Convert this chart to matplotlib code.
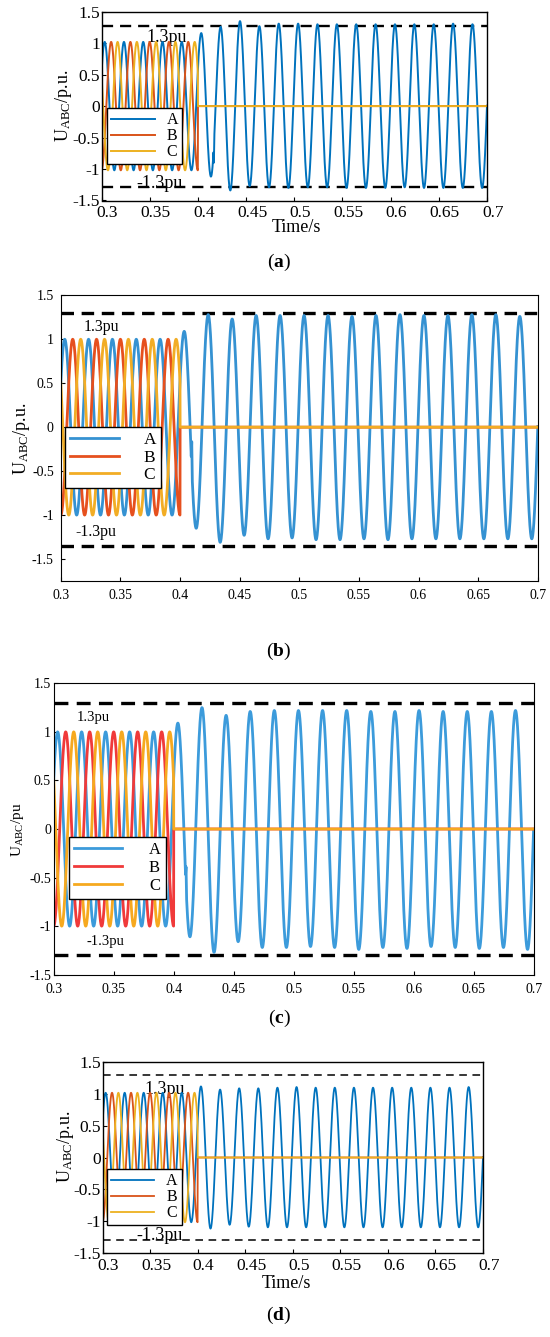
import numpy as np
import matplotlib
matplotlib.use('Agg')
import matplotlib.pyplot as plt
import matplotlib.transforms as mtransforms

plt.rcParams['font.family'] = ['Liberation Serif', 'DejaVu Serif']
plt.rcParams['mathtext.fontset'] = 'custom'
plt.rcParams['mathtext.rm'] = 'Liberation Serif'
plt.rcParams['mathtext.it'] = 'Liberation Serif:italic'
plt.rcParams['mathtext.bf'] = 'Liberation Serif:bold'
plt.rcParams['lines.scale_dashes'] = False
plt.rcParams['axes.unicode_minus'] = False

# ---------------------------------------------------------------- data
x_ticks = [0.3, 0.35, 0.4, 0.45, 0.5, 0.55, 0.6, 0.65, 0.7]
x_tick_labels = ['0.3', '0.35', '0.4', '0.45', '0.5', '0.55', '0.6', '0.65', '0.7']
y_ticks = [-1.5, -1, -0.5, 0, 0.5, 1, 1.5]
y_tick_labels = ['-1.5', '-1', '-0.5', '0', '0.5', '1', '1.5']
phase_names = ['A', 'B', 'C']
panel_letters = ['a', 'b', 'c', 'd']
y_labels = [r'U$_{\rm ABC}$/p.u.', r'U$_{\rm ABC}$/p.u.', r'U$_{\rm ABC}$/pu', r'U$_{\rm ABC}$/p.u.']
limit_texts = ['1.3pu', '-1.3pu']

f_pre = 50.0           # Hz, pre-fault frequency
f_post = 49.75
t_fault = 0.40         # s, phases B and C drop to zero
# first crest time of each phase (A, B, C)
first_crest = [0.2833, 0.2900, 0.2967]
# pre-fault crest value per panel
pre_amp = [1.02, 1.00, 1.00, 1.02]

# post-fault phase-A crest / trough values, every half cycle from 0.4035 s
post_first_t = 0.4035
post_A_a = [1.16, -1.12, 1.26, -1.34, 1.35, -1.27, 1.27, -1.29, 1.31, -1.30,
            1.31, -1.29, 1.30, -1.29, 1.30, -1.30, 1.30, -1.30, 1.30, -1.30,
            1.30, -1.29, 1.30, -1.30, 1.30, -1.30, 1.31, -1.30, 1.30, -1.30, 1.30]
post_A_b = [1.09, -1.15, 1.28, -1.31, 1.23, -1.23, 1.27, -1.27, 1.27, -1.26,
            1.27, -1.28, 1.27, -1.28, 1.26, -1.27, 1.27, -1.28, 1.28, -1.27,
            1.27, -1.27, 1.27, -1.27, 1.28, -1.27, 1.28, -1.27, 1.26, -1.27, 1.27]
post_A_c = [1.09, -1.11, 1.25, -1.27, 1.17, -1.16, 1.21, -1.22, 1.22, -1.22,
            1.22, -1.21, 1.22, -1.22, 1.22, -1.24, 1.21, -1.22, 1.21, -1.23,
            1.22, -1.21, 1.21, -1.22, 1.21, -1.23, 1.21, -1.22, 1.22, -1.24, 1.22]
post_A_d = [1.12, -1.12, 1.07, -1.06, 1.09, -1.09, 1.09, -1.10, 1.10, -1.10,
            1.11, -1.10, 1.10, -1.10, 1.10, -1.10, 1.10, -1.10, 1.10, -1.10,
            1.10, -1.10, 1.10, -1.10, 1.10, -1.10, 1.10, -1.10, 1.11, -1.10, 1.10]
post_A = [post_A_a, post_A_b, post_A_c, post_A_d]

# short switching notch on phase A just after the fault
notch_t = [0.4166, 0.4098, 0.4103, None]
notch_dy = [-0.28, 0.30, 0.20, 0.0]

# dashed limit levels
limit_hi = [1.28, 1.30, 1.30, 1.30]
limit_lo = [-1.29, -1.35, -1.30, -1.30]
y_lims = [(-1.5, 1.5), (-1.75, 1.5), (-1.5, 1.5), (-1.5, 1.5)]

# ---------------------------------------------------------------- styles
W, H = 550, 1337
matlab = ['#0072BD', '#D95319', '#EDB120']
styles = [
    dict(ax=(101.5, 11.7, 487, 200.5), colors=matlab, lw=1.4, tick_fs=12.5,
         dash_lw=1.7, dash=(8, 5), ylab=(64, 106), ylab_fs=13, xlab=(296, 228),
         cap=(279, 262), txt_hi=(167, 37), txt_lo=(160, 183), txt_fs=13,
         leg=(106.7, 108.3), leg_fs=11.5, leg_hl=2.75, leg_tp=0.75, leg_ls=0.0,
         leg_bp=0.25, ypad=1.0, xpad=3.5, spine=1.0, xshift=6),
    dict(ax=(60.8, 295.3, 537.8, 581), colors=['#3592D2', '#E6501E', '#F2AD25'], lw=2.0,
         tick_fs=10, dash_lw=2.4, dash=(9, 5.5), ylab=(22, 439), ylab_fs=13, xlab=None,
         cap=(279, 651), txt_hi=(101.5, 327), txt_lo=(96, 532), txt_fs=11.5,
         leg=(64.7, 426.7), leg_fs=12.5, leg_hl=2.8, leg_tp=1.45, leg_ls=0.08,
         leg_bp=0.3, ypad=5.0, xpad=6.0, spine=0.8, xshift=0),
    dict(ax=(53.7, 683.3, 533.6, 974.7), colors=['#3C9BDB', '#F03A3A', '#F6A91F'], lw=2.0,
         tick_fs=10, dash_lw=2.4, dash=(10, 6), ylab=(17, 830), ylab_fs=11, xlab=None,
         cap=(279, 1018), txt_hi=(93, 717), txt_lo=(105.5, 942), txt_fs=10.5,
         leg=(68.9, 836.7), leg_fs=12, leg_hl=2.9, leg_tp=1.6, leg_ls=0.12,
         leg_bp=0.3, ypad=2.0, xpad=6.0, spine=0.8, xshift=0),
    dict(ax=(102.5, 1062.3, 483, 1252.7), colors=matlab, lw=1.3, tick_fs=12.5,
         dash_lw=1.1, dash=(5.5, 4), ylab=(65, 1147), ylab_fs=13, xlab=(286, 1283),
         cap=(279, 1315), txt_hi=(165, 1089), txt_lo=(160, 1235), txt_fs=13,
         leg=(107, 1169.3), leg_fs=11.5, leg_hl=2.7, leg_tp=0.75, leg_ls=0.0,
         leg_bp=0.25, ypad=1.0, xpad=3.5, spine=1.0, xshift=6),
]


def crest_wave(ext_t, ext_v, t):
    """Smooth half-cosine path through successive crest/trough points."""
    ext_t = np.asarray(ext_t)
    ext_v = np.asarray(ext_v)
    i = np.clip(np.searchsorted(ext_t, t, side='right') - 1, 0, len(ext_t) - 2)
    t0, t1 = ext_t[i], ext_t[i + 1]
    v0, v1 = ext_v[i], ext_v[i + 1]
    frac = (t - t0) / (t1 - t0)
    return (v0 + v1) / 2 + (v0 - v1) / 2 * np.cos(np.pi * frac)


half_pre = 0.5 / f_pre
half_post = 0.5 / f_post
t = np.round(np.arange(0.3, 0.7 + 1e-9, 0.00005), 6)

fig = plt.figure(figsize=(W / 100, H / 100), dpi=100)
fx = lambda px: px / W
fy = lambda py: 1 - py / H

for p in range(4):
    st = styles[p]
    x0, y0, x1, y1 = st['ax']
    ax = fig.add_axes([fx(x0), fy(y1), (x1 - x0) / W, (y1 - y0) / H])

    amp = pre_amp[p]
    # phase A: pre-fault crests followed by the read post-fault crests
    n_pre = int(round((post_first_t - first_crest[0]) / half_pre))
    tA = [first_crest[0] + k * half_pre for k in range(n_pre)]
    vA = [amp if k % 2 == 0 else -amp for k in range(n_pre)]
    tA += [post_first_t + k * half_post for k in range(len(post_A[p]))]
    vA += list(post_A[p])
    yA = crest_wave(tA, vA, t)
    if notch_t[p] is not None:
        w = 0.0004
        yA = yA + notch_dy[p] * np.clip(1 - np.abs(t - notch_t[p]) / w, 0, None)

    curves = [yA]
    for ph in (1, 2):
        tk = [first_crest[ph] - half_pre + k * half_pre for k in range(14)]
        vk = [-amp if k % 2 == 0 else amp for k in range(14)]
        yk = crest_wave(tk, vk, t)
        curves.append(np.where(t < t_fault, yk, 0.0))

    ax.axhline(limit_hi[p], color='black', lw=st['dash_lw'],
               ls=(0, st['dash']), zorder=1.5)
    ax.axhline(limit_lo[p], color='black', lw=st['dash_lw'],
               ls=(0, st['dash']), zorder=1.5)

    handles = []
    for ph in range(3):
        h, = ax.plot(t, curves[ph], color=st['colors'][ph], lw=st['lw'],
                     zorder=2 + ph * 0.1, solid_joinstyle='round')
        handles.append(h)

    ax.set_xlim(0.3, 0.7)
    ax.set_ylim(*y_lims[p])
    ax.set_xticks(x_ticks)
    ax.set_xticklabels(x_tick_labels)
    ax.set_yticks(y_ticks)
    ax.set_yticklabels(y_tick_labels)
    ax.tick_params(direction='in', length=3, width=0.8,
                   labelsize=st['tick_fs'], top=False, right=False)
    ax.tick_params(axis='y', pad=st['ypad'])
    ax.tick_params(axis='x', pad=st['xpad'])
    if st['xshift']:
        off = mtransforms.ScaledTranslation(st['xshift'] / 100, 0, fig.dpi_scale_trans)
        for lab in ax.get_xticklabels():
            lab.set_transform(lab.get_transform() + off)
    for s in ax.spines.values():
        s.set_linewidth(st['spine'])
        s.set_color('black')

    # limit annotations
    ax.text(fx(st['txt_hi'][0]), fy(st['txt_hi'][1]), limit_texts[0],
            transform=fig.transFigure, ha='center', va='center',
            fontsize=st['txt_fs'], zorder=1)
    ax.text(fx(st['txt_lo'][0]), fy(st['txt_lo'][1]), limit_texts[1],
            transform=fig.transFigure, ha='center', va='center',
            fontsize=st['txt_fs'], zorder=1)

    leg = ax.legend(handles, phase_names, loc='upper left',
                    bbox_to_anchor=(fx(st['leg'][0]), fy(st['leg'][1])),
                    bbox_transform=fig.transFigure, borderaxespad=0,
                    frameon=True, fancybox=False, framealpha=1,
                    edgecolor='black', fontsize=st['leg_fs'],
                    handlelength=st['leg_hl'], handletextpad=st['leg_tp'],
                    labelspacing=st['leg_ls'], borderpad=st['leg_bp'])
    leg.get_frame().set_linewidth(1.0)
    leg.set_zorder(5)

    fig.text(fx(st['ylab'][0]), fy(st['ylab'][1]), y_labels[p], rotation=90,
             ha='center', va='center', fontsize=st['ylab_fs'])
    if st['xlab'] is not None:
        fig.text(fx(st['xlab'][0]), fy(st['xlab'][1]), 'Time/s',
                 ha='center', va='center', fontsize=13)
    fig.text(fx(st['cap'][0]), fy(st['cap'][1]),
             r'($\mathbf{' + panel_letters[p] + r'}$)',
             ha='center', va='center', fontsize=14)

fig.savefig('out.png', dpi=100)
